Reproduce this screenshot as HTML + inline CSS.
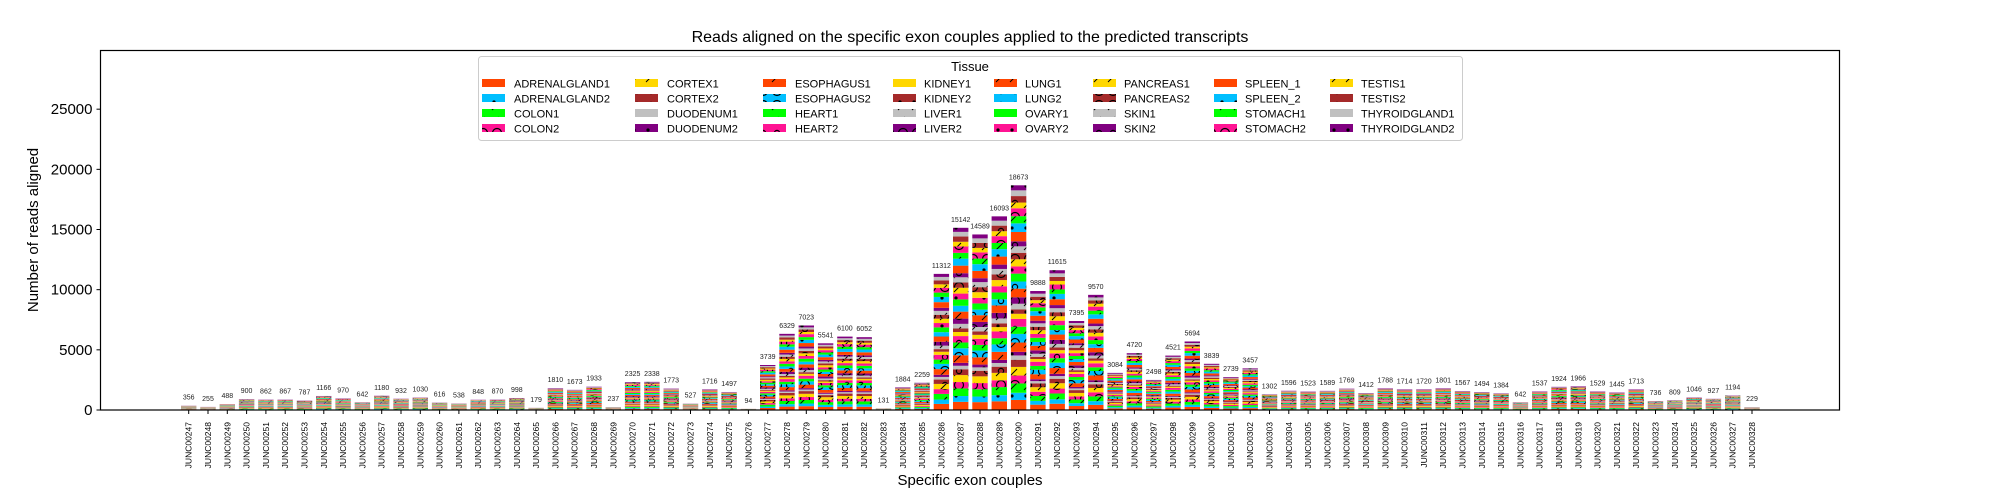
<!DOCTYPE html>
<html><head><meta charset="utf-8">
<style>
html,body{margin:0;padding:0;background:#fff;}
svg{display:block;font-family:"Liberation Sans","DejaVu Sans",sans-serif;}
</style></head>
<body>
<svg id="chart" width="2000" height="500" viewBox="0 0 2000 500" xmlns="http://www.w3.org/2000/svg">
<defs id="defs"></defs>
<text x="970" y="42" font-size="16" text-anchor="middle">Reads aligned on the specific exon couples applied to the predicted transcripts</text>
<text transform="translate(38,230) rotate(-90)" font-size="15" text-anchor="middle">Number of reads aligned</text>
<text x="970" y="485" font-size="15" text-anchor="middle">Specific exon couples</text>
<g id="bars"></g>
<g id="yaxis"></g>
<g id="xaxis"></g>
<rect x="100.5" y="50.5" width="1739" height="359.5" fill="none" stroke="#000" stroke-width="1.2"/>
<g id="legend"></g>
</svg>
<script>
const categories = [];
for (let n = 247; n <= 328; n++) categories.push('JUNC00' + n);
const totals = [356,255,488,900,862,867,787,1166,970,642,1180,932,1030,616,538,848,870,998,179,1810,1673,1933,237,2325,2338,1773,527,1716,1497,94,3739,6329,7023,5541,6100,6052,131,1884,2259,11312,15142,14589,16093,18673,9888,11615,7395,9570,3084,4720,2498,4521,5694,3839,2739,3457,1302,1596,1523,1589,1769,1412,1788,1714,1720,1801,1567,1494,1384,642,1537,1924,1966,1529,1445,1713,736,809,1046,927,1194,229];
const tissues = ['ADRENALGLAND1','ADRENALGLAND2','COLON1','COLON2','CORTEX1','CORTEX2','DUODENUM1','DUODENUM2','ESOPHAGUS1','ESOPHAGUS2','HEART1','HEART2','KIDNEY1','KIDNEY2','LIVER1','LIVER2','LUNG1','LUNG2','OVARY1','OVARY2','PANCREAS1','PANCREAS2','SKIN1','SKIN2','SPLEEN_1','SPLEEN_2','STOMACH1','STOMACH2','TESTIS1','TESTIS2','THYROIDGLAND1','THYROIDGLAND2'];
const tissueShares = [1.4,1.0,1.3,1.1,1.2,1.0,0.6,0.5,1.3,1.2,1.0,1.1,0.7,0.6,0.8,0.9,1.2,1.0,1.1,1.0,1.0,0.9,0.9,0.7,1.3,1.2,1.0,1.1,0.8,0.9,0.8,0.7];
const yTicks = [0,5000,10000,15000,20000,25000];
const palette = ['#ff4500','#00bfff','#00ff00','#ff1493','#ffd700','#a52a2a','#c0c0c0','#800080'];
const hatches = ['', 'dot', 'slash', 'bigO', 'slash', 'smallo'];

const NS = 'http://www.w3.org/2000/svg';
const svg = document.getElementById('chart');
const defs = document.getElementById('defs');
const plotL = 100.5, plotR = 1839.5, plotT = 50.5, plotB = 410;
const yMax = 29877;
const x0 = 188.7, step = 19.3, barW = 15.4;
function xScale(i){ return x0 + i * step; }
function yScale(v){ return plotB - v / yMax * (plotB - plotT); }
function mk(tag, attrs, parent){ const e = document.createElementNS(NS, tag); for (const k in attrs) e.setAttribute(k, attrs[k]); if (parent) parent.appendChild(e); return e; }

// patterns
tissues.forEach((t, i) => {
  const col = palette[i % 8], h = hatches[i % 6];
  const p = mk('pattern', {id: 'pat' + i, patternUnits: 'userSpaceOnUse', width: 14, height: 14}, defs);
  mk('rect', {x: 0, y: 0, width: 14, height: 14, fill: col}, p);
  if (h === 'dot') mk('circle', {cx: 4, cy: 4, r: 1.6, fill: '#000'}, p);
  if (h === 'slash') mk('line', {x1: 2, y1: 12, x2: 9, y2: 5, stroke: '#000', 'stroke-width': 1}, p);
  if (h === 'bigO') mk('circle', {cx: 7, cy: 7, r: 4.5, fill: 'none', stroke: '#000', 'stroke-width': 1.2}, p);
  if (h === 'smallo') mk('circle', {cx: 7, cy: 7, r: 2.6, fill: 'none', stroke: '#000', 'stroke-width': 1.2}, p);
});

const shareSum = tissueShares.reduce((a, b) => a + b, 0);
const barsG = document.getElementById('bars');
categories.forEach((c, i) => {
  let acc = 0;
  const cx = xScale(i);
  tissues.forEach((t, k) => {
    const v = totals[i] * tissueShares[k] / shareSum;
    const y1 = yScale(acc + v), y0 = yScale(acc);
    const r = mk('rect', {x: cx - barW / 2, y: y1, width: barW, height: Math.max(0, y0 - y1), fill: 'url(#pat' + k + ')'}, barsG);
    
    
    acc += v;
  });
  const lbl = mk('text', {x: cx, y: yScale(totals[i]) - 6, 'font-size': 7, 'text-anchor': 'middle', fill: '#222'}, barsG);
  lbl.textContent = totals[i];
  
  
  const tk = mk('line', {x1: cx, y1: plotB, x2: cx, y2: plotB + 4, stroke: '#000', 'stroke-width': 1}, document.getElementById('xaxis'));
  
  
  const tl = mk('text', {transform: 'translate(' + (cx + 3) + ',' + 422 + ') rotate(-90)', 'font-size': 8.5, 'text-anchor': 'end'}, document.getElementById('xaxis'));
  tl.textContent = c;
  
  
});

const yG = document.getElementById('yaxis');
yTicks.forEach(v => {
  const y = yScale(v);
  const tk = mk('line', {x1: plotL - 4, y1: y, x2: plotL, y2: y, stroke: '#000', 'stroke-width': 1}, yG);
  
  
  const tl = mk('text', {x: plotL - 8, y: y + 5, 'font-size': 15, 'text-anchor': 'end'}, yG);
  tl.textContent = v;
  
  
});

// legend
const lg = document.getElementById('legend');
const box = mk('rect', {x: 478.5, y: 56.5, width: 984, height: 84, rx: 3, fill: '#fff', stroke: '#ccc', 'stroke-width': 1}, lg);


const lt = mk('text', {x: 970, y: 71, 'font-size': 13, 'text-anchor': 'middle'}, lg);
lt.textContent = 'Tissue';


const colPatch = [482, 635, 763, 893, 994, 1093, 1214, 1330];
const colText = [514, 667, 795, 924, 1025, 1124, 1245, 1361];
const rowY = [84, 99, 114, 129];
tissues.forEach((t, k) => {
  const c = Math.floor(k / 4), r = k % 4;
  const g = mk('g', {}, lg);
  
  
  mk('rect', {x: colPatch[c], y: rowY[r] - 5, width: 23, height: 8, fill: 'url(#pat' + k + ')'}, g);
  const tx = mk('text', {x: colText[c], y: rowY[r] + 3.5, 'font-size': 11}, g);
  tx.textContent = t;
});
</script>
</body></html>
